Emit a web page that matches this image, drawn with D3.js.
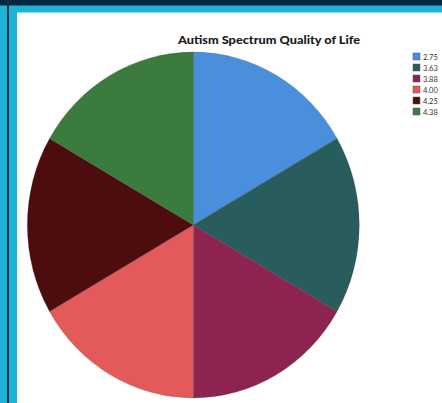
<!DOCTYPE html>
<html>
<head>
<meta charset="utf-8">
<script src="https://cdn.jsdelivr.net/npm/d3@7/dist/d3.min.js"></script>
<style>
  html, body { margin: 0; padding: 0; background: #ffffff; }
  svg { display: block; }
</style>
</head>
<body>
<svg id="chart" width="442" height="403"></svg>
<script>
// Quality-of-life scores, one response each
const categories = ["2.75", "3.63", "3.88", "4.00", "4.25", "4.38"];
const counts = [1, 1, 1, 1, 1, 1];
const palette = ["#4a8fdc", "#285c5d", "#8c2350", "#e45a5b", "#4d0c0e", "#3b7b3e"];
const title = "Autism Spectrum Quality of Life";

const W = 442, H = 403;
const svg = d3.select("#chart");

// Window frame: dark top strip, cyan border, thin dark rule on the left
svg.append("rect").attr("x", 0).attr("y", 0).attr("width", W).attr("height", H).attr("fill", "#1eb2d6");
svg.append("rect").attr("x", 0).attr("y", 0).attr("width", W).attr("height", 5.5).attr("fill", "#02283e");
svg.append("rect").attr("x", 7).attr("y", 0).attr("width", 2).attr("height", H).attr("fill", "#06324a");
svg.append("rect").attr("x", 17).attr("y", 12.5).attr("width", W - 17).attr("height", H - 12.5).attr("fill", "#ffffff");

// Title
svg.append("text")
  .attr("x", 269).attr("y", 44)
  .attr("text-anchor", "middle")
  .attr("font-family", "Lato, 'Open Sans', sans-serif")
  .attr("font-weight", 900)
  .attr("font-size", 10.5)
  .attr("textLength", 182)
  .attr("lengthAdjust", "spacingAndGlyphs")
  .attr("fill", "#1a1a1a")
  .text(title);

// Pie, slightly taller than wide
const cx = 193.3, cy = 225, rx = 166, ry = 173;
const color = d3.scaleOrdinal().domain(categories).range(palette);
const pie = d3.pie().sort(null).value(d => d.v);
const arc = d3.arc().innerRadius(0).outerRadius(ry);
const data = categories.map((c, i) => ({ c, v: counts[i] }));

const g = svg.append("g")
  .attr("transform", `translate(${cx},${cy}) scale(${rx / ry},1)`);
g.selectAll("path")
  .data(pie(data))
  .join("path")
  .attr("d", arc)
  .attr("fill", d => color(d.data.c))
  .attr("stroke", "#3a3a3a")
  .attr("stroke-opacity", 0.35)
  .attr("stroke-width", 0.6)
  .attr("vector-effect", "non-scaling-stroke");

// Legend
const legendY = d3.scaleBand().domain(categories).range([53, 119]).paddingInner(0);
const lg = svg.append("g");
const items = lg.selectAll("g")
  .data(categories)
  .join("g")
  .attr("transform", d => `translate(413,${legendY(d)})`);
items.append("rect")
  .attr("width", 7).attr("height", 7)
  .attr("fill", d => color(d))
  .attr("stroke", "#555").attr("stroke-width", 0.5);
items.append("text")
  .attr("x", 10).attr("y", 6.5)
  .attr("font-family", "Lato, sans-serif")
  .attr("font-size", 7.5)
  .attr("fill", "#333")
  .text(d => d);
</script>
</body>
</html>
